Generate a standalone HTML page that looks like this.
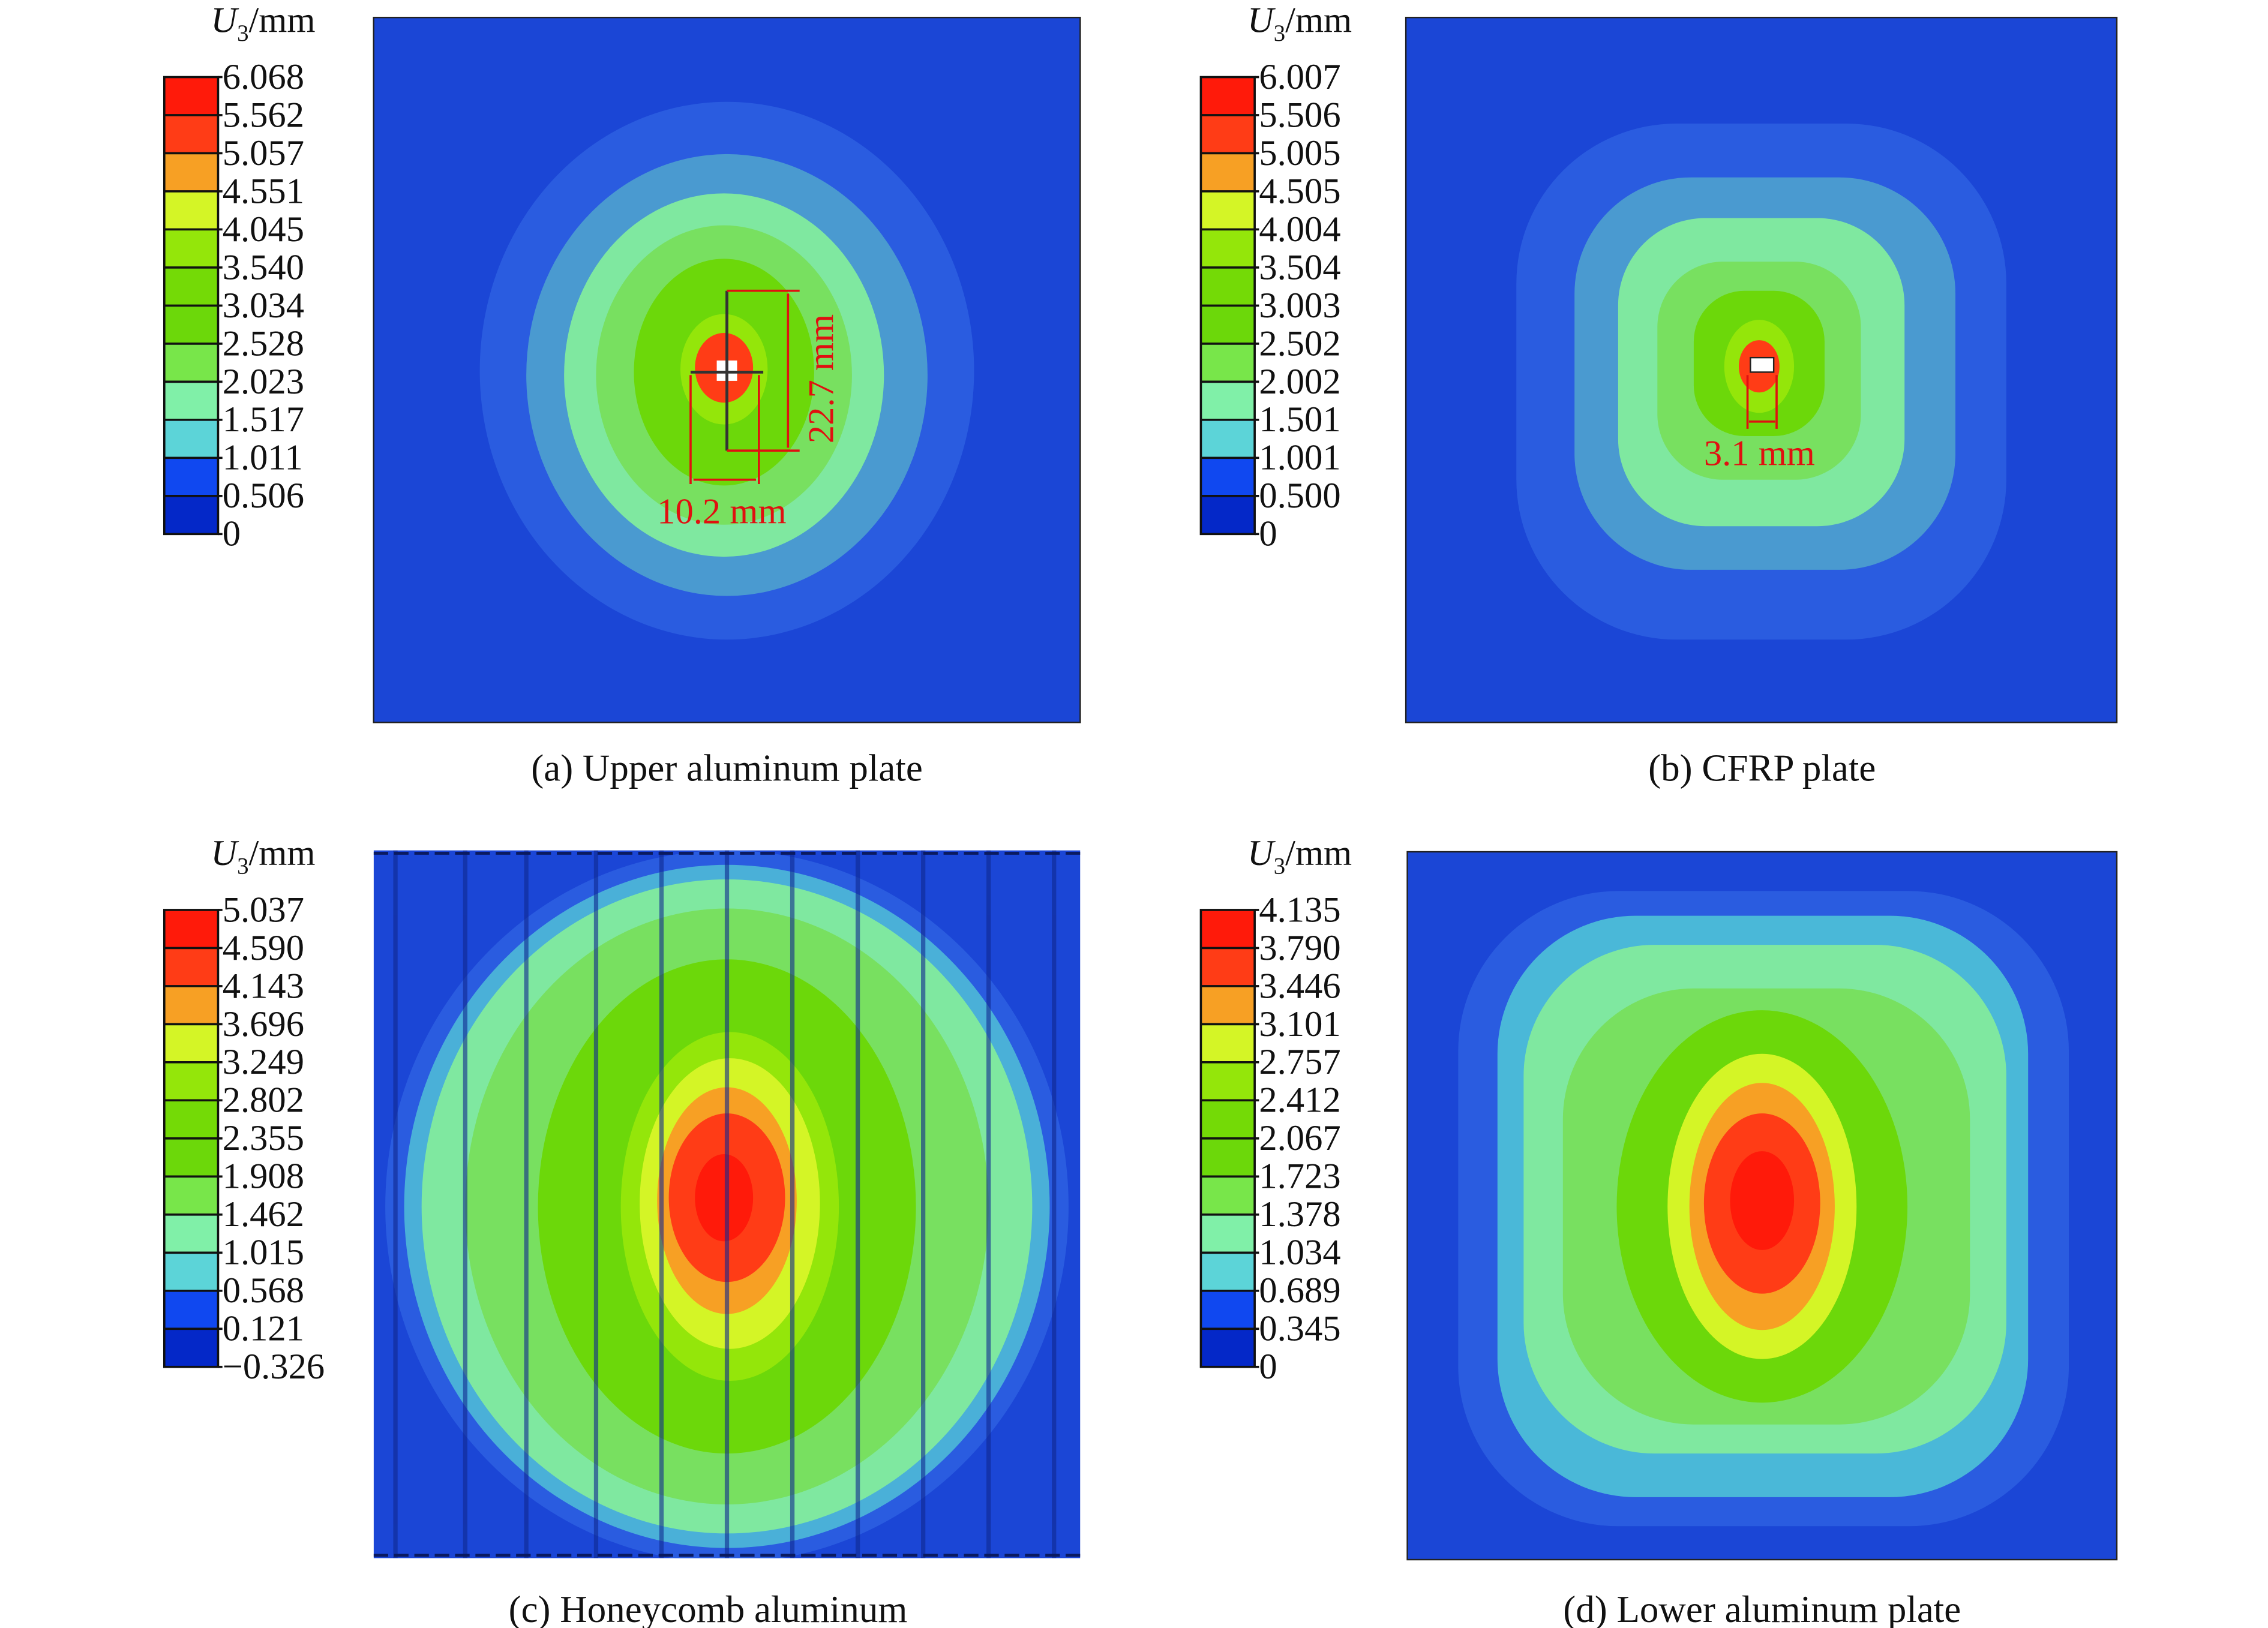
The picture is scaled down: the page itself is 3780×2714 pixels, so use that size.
<!DOCTYPE html>
<html><head><meta charset="utf-8"><style>
html,body{margin:0;padding:0;background:#fff;}
svg{display:block;}
text{font-family:"Liberation Serif",serif;fill:#111;}
</style></head><body>
<svg width="3780" height="2714" viewBox="0 0 1560 1120" xmlns="http://www.w3.org/2000/svg">
<defs>
<clipPath id="cc"><rect x="257" y="585" width="486" height="487"/></clipPath>
<g id="bar">
<rect x="0" y="0" width="37" height="26.2" fill="#ff1a0a"/>
<rect x="0" y="26.2" width="37" height="26.2" fill="#ff3c16"/>
<rect x="0" y="52.4" width="37" height="26.2" fill="#f7a024"/>
<rect x="0" y="78.6" width="37" height="26.2" fill="#d4f526"/>
<rect x="0" y="104.8" width="37" height="26.2" fill="#94e60a"/>
<rect x="0" y="131" width="37" height="26.2" fill="#74da06"/>
<rect x="0" y="157.2" width="37" height="26.2" fill="#6cd80a"/>
<rect x="0" y="183.4" width="37" height="26.2" fill="#78e64a"/>
<rect x="0" y="209.6" width="37" height="26.2" fill="#80f0a8"/>
<rect x="0" y="235.8" width="37" height="26.2" fill="#5cd4d8"/>
<rect x="0" y="262" width="37" height="26.2" fill="#1048f0"/>
<rect x="0" y="288.2" width="37" height="26.2" fill="#0428c8"/>
<g stroke="#111" stroke-width="1.5">
<rect x="0" y="0" width="37" height="314.4" fill="none"/>
<line x1="0" y1="26.2" x2="40" y2="26.2"/><line x1="0" y1="52.4" x2="40" y2="52.4"/>
<line x1="0" y1="78.6" x2="40" y2="78.6"/><line x1="0" y1="104.8" x2="40" y2="104.8"/>
<line x1="0" y1="131" x2="40" y2="131"/><line x1="0" y1="157.2" x2="40" y2="157.2"/>
<line x1="0" y1="183.4" x2="40" y2="183.4"/><line x1="0" y1="209.6" x2="40" y2="209.6"/>
<line x1="0" y1="235.8" x2="40" y2="235.8"/><line x1="0" y1="262" x2="40" y2="262"/>
<line x1="0" y1="288.2" x2="40" y2="288.2"/><line x1="37" y1="0" x2="40" y2="0"/>
<line x1="37" y1="314.4" x2="40" y2="314.4"/>
</g>
</g>
</defs>

<g font-size="25">
<g transform="translate(113,53)"><use href="#bar"/>
<g transform="translate(40,8)"><text y="0">6.068</text><text y="26.2">5.562</text><text y="52.4">5.057</text><text y="78.6">4.551</text><text y="104.8">4.045</text><text y="131">3.540</text><text y="157.2">3.034</text><text y="183.4">2.528</text><text y="209.6">2.023</text><text y="235.8">1.517</text><text y="262">1.011</text><text y="288.2">0.506</text><text y="314.4">0</text></g></g>
<text x="145" y="22"><tspan font-style="italic">U</tspan><tspan font-size="16" dy="6">3</tspan><tspan dy="-6">/mm</tspan></text>

<g transform="translate(826,53)"><use href="#bar"/>
<g transform="translate(40,8)"><text y="0">6.007</text><text y="26.2">5.506</text><text y="52.4">5.005</text><text y="78.6">4.505</text><text y="104.8">4.004</text><text y="131">3.504</text><text y="157.2">3.003</text><text y="183.4">2.502</text><text y="209.6">2.002</text><text y="235.8">1.501</text><text y="262">1.001</text><text y="288.2">0.500</text><text y="314.4">0</text></g></g>
<text x="858" y="22"><tspan font-style="italic">U</tspan><tspan font-size="16" dy="6">3</tspan><tspan dy="-6">/mm</tspan></text>

<g transform="translate(113,626)"><use href="#bar"/>
<g transform="translate(40,8)"><text y="0">5.037</text><text y="26.2">4.590</text><text y="52.4">4.143</text><text y="78.6">3.696</text><text y="104.8">3.249</text><text y="131">2.802</text><text y="157.2">2.355</text><text y="183.4">1.908</text><text y="209.6">1.462</text><text y="235.8">1.015</text><text y="262">0.568</text><text y="288.2">0.121</text><text y="314.4">−0.326</text></g></g>
<text x="145" y="595"><tspan font-style="italic">U</tspan><tspan font-size="16" dy="6">3</tspan><tspan dy="-6">/mm</tspan></text>

<g transform="translate(826,626)"><use href="#bar"/>
<g transform="translate(40,8)"><text y="0">4.135</text><text y="26.2">3.790</text><text y="52.4">3.446</text><text y="78.6">3.101</text><text y="104.8">2.757</text><text y="131">2.412</text><text y="157.2">2.067</text><text y="183.4">1.723</text><text y="209.6">1.378</text><text y="235.8">1.034</text><text y="262">0.689</text><text y="288.2">0.345</text><text y="314.4">0</text></g></g>
<text x="858" y="595"><tspan font-style="italic">U</tspan><tspan font-size="16" dy="6">3</tspan><tspan dy="-6">/mm</tspan></text>
</g>

<!-- Panel a -->
<rect x="257" y="12" width="486" height="485" fill="#1b46d6" stroke="#222" stroke-width="1"/>
<ellipse cx="500" cy="255" rx="170" ry="185" fill="#2a5ce0"/>
<ellipse cx="500" cy="258" rx="138" ry="152" fill="#4a9ad0"/>
<ellipse cx="498" cy="258" rx="110" ry="125" fill="#7fe8a0"/>
<ellipse cx="498" cy="258" rx="88" ry="103" fill="#78e060"/>
<ellipse cx="498" cy="256" rx="62" ry="78" fill="#6cd80a"/>
<ellipse cx="498" cy="254" rx="30" ry="38" fill="#94e60a"/>
<ellipse cx="498" cy="253" rx="20" ry="24" fill="#ff3c16"/>
<rect x="493" y="248" width="14" height="14" fill="#fff"/>
<line x1="500" y1="200" x2="500" y2="310" stroke="#333" stroke-width="2"/>
<line x1="475" y1="256" x2="525" y2="256" stroke="#333" stroke-width="2"/>
<g stroke="#e01010" stroke-width="1.5" fill="none">
<line x1="500" y1="200" x2="550" y2="200"/><line x1="500" y1="310" x2="550" y2="310"/>
<line x1="542" y1="202" x2="542" y2="308"/>
<line x1="475" y1="258" x2="475" y2="333"/><line x1="522" y1="258" x2="522" y2="333"/>
<line x1="477" y1="330" x2="520" y2="330"/>
</g>
<text x="452" y="360" font-size="25" style="fill:#e01010">10.2 mm</text>
<text transform="translate(573,305) rotate(-90)" font-size="25" style="fill:#e01010">22.7 mm</text>

<!-- Panel b -->
<rect x="967" y="12" width="489" height="485" fill="#1b46d6" stroke="#222" stroke-width="1"/>
<rect x="1043" y="85" width="337" height="355" rx="110" fill="#2a5ce0"/>
<rect x="1083" y="122" width="262" height="270" rx="80" fill="#4a9ad0"/>
<rect x="1113" y="150" width="197" height="212" rx="60" fill="#7fe8a0"/>
<rect x="1140" y="180" width="140" height="150" rx="45" fill="#78e060"/>
<rect x="1165" y="200" width="90" height="100" rx="35" fill="#6cd80a"/>
<ellipse cx="1210" cy="252" rx="24" ry="32" fill="#94e60a"/>
<ellipse cx="1210" cy="252" rx="14" ry="18" fill="#ff3c16"/>
<rect x="1204" y="246" width="16" height="10" fill="#fff" stroke="#222"/>
<g stroke="#e01010" stroke-width="1.5"><line x1="1202" y1="258" x2="1202" y2="295"/><line x1="1222" y1="258" x2="1222" y2="295"/><line x1="1203" y1="290" x2="1221" y2="290"/></g>
<text x="1172" y="320" font-size="25" style="fill:#e01010">3.1 mm</text>

<!-- Panel c -->
<g clip-path="url(#cc)">
<rect x="257" y="585" width="486" height="487" fill="#1b46d6"/>
<ellipse cx="500" cy="830" rx="235" ry="245" fill="#2a5ce0"/>
<ellipse cx="500" cy="830" rx="222" ry="235" fill="#4ab0d8"/>
<ellipse cx="500" cy="830" rx="210" ry="225" fill="#7fe8a0"/>
<ellipse cx="500" cy="830" rx="180" ry="205" fill="#78e060"/>
<ellipse cx="500" cy="830" rx="130" ry="170" fill="#6cd80a"/>
<ellipse cx="502" cy="830" rx="75" ry="120" fill="#94e60a"/>
<ellipse cx="502" cy="828" rx="62" ry="100" fill="#d4f526"/>
<ellipse cx="500" cy="826" rx="48" ry="78" fill="#f7a024"/>
<ellipse cx="500" cy="824" rx="40" ry="58" fill="#ff3c16"/>
<ellipse cx="498" cy="824" rx="20" ry="30" fill="#ff1a0a"/>
<g stroke="#102890" stroke-width="3" opacity="0.6">
<line x1="272" y1="585" x2="272" y2="1072"/><line x1="320" y1="585" x2="320" y2="1072"/>
<line x1="362" y1="585" x2="362" y2="1072"/><line x1="410" y1="585" x2="410" y2="1072"/>
<line x1="455" y1="585" x2="455" y2="1072"/><line x1="500" y1="585" x2="500" y2="1072"/>
<line x1="545" y1="585" x2="545" y2="1072"/><line x1="590" y1="585" x2="590" y2="1072"/>
<line x1="635" y1="585" x2="635" y2="1072"/><line x1="680" y1="585" x2="680" y2="1072"/>
<line x1="725" y1="585" x2="725" y2="1072"/>
</g>
<g stroke="#0a1a60" stroke-width="2" stroke-dasharray="10,4"><line x1="257" y1="587" x2="743" y2="587"/><line x1="257" y1="1070" x2="743" y2="1070"/></g>
</g>

<!-- Panel d -->
<rect x="968" y="586" width="488" height="487" fill="#1b46d6" stroke="#222" stroke-width="1"/>
<rect x="1003" y="613" width="420" height="437" rx="110" fill="#2a5ce0"/>
<rect x="1030" y="630" width="365" height="400" rx="95" fill="#4ab8d8"/>
<rect x="1048" y="650" width="332" height="350" rx="90" fill="#7fe8a0"/>
<rect x="1075" y="680" width="280" height="300" rx="90" fill="#78e060"/>
<ellipse cx="1212" cy="830" rx="100" ry="135" fill="#6cd80a"/>
<ellipse cx="1212" cy="830" rx="65" ry="105" fill="#d4f526"/>
<ellipse cx="1212" cy="830" rx="50" ry="85" fill="#f7a024"/>
<ellipse cx="1212" cy="828" rx="40" ry="62" fill="#ff3c16"/>
<ellipse cx="1212" cy="826" rx="22" ry="34" fill="#ff1a0a"/>

<g font-size="26" text-anchor="middle">
<text x="500" y="537">(a) Upper aluminum plate</text>
<text x="1212" y="537">(b) CFRP plate</text>
<text x="487" y="1116">(c) Honeycomb aluminum</text>
<text x="1212" y="1116">(d) Lower aluminum plate</text>
</g>
</svg>
</body></html>
